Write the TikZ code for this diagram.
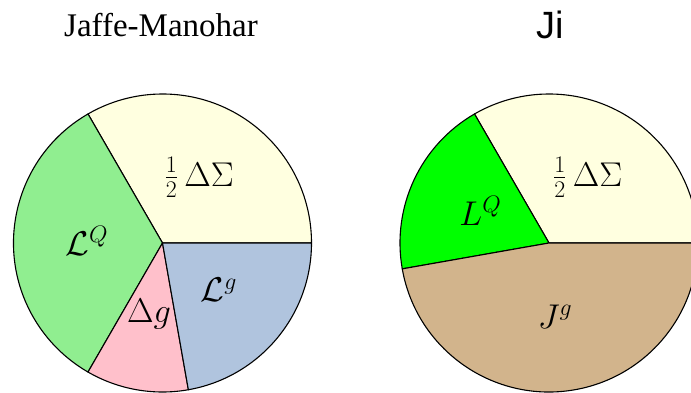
\documentclass[tikz,border=0pt]{standalone}
\usepackage{graphicx}
\usepackage{fontspec}
\setmainfont{Liberation Serif}
\newfontfamily\arialfont{Liberation Sans}
\definecolor{lyellow}{HTML}{FFFFE0}
\definecolor{lgreen}{HTML}{90EE90}
\definecolor{lpink}{HTML}{FFC0CB}
\definecolor{lsteel}{HTML}{B0C4DE}
\definecolor{limegreen}{HTML}{00FF00}
\definecolor{ltan}{HTML}{D2B48C}
\newcommand{\mlab}[1]{\scalebox{1.38}{$#1$}}
\begin{document}
\begin{tikzpicture}[x=1pt,y=1pt,
  slice/.style={draw=black,line width=1.1pt,line join=round},
  lab/.style={anchor=base,inner sep=0pt,font=\fontsize{25}{30}\selectfont},
  title/.style={anchor=base,inner sep=0pt}]
\useasboundingbox (0,0) rectangle (691,392);
\clip (0,0) rectangle (691,392);
\def\rad{149}
\coordinate (L) at (162.5,149);
\coordinate (R) at (549,149);
% left pie
\filldraw[slice,fill=lyellow] (L) -- ++(0:\rad) arc[start angle=0,end angle=120,radius=\rad] -- cycle;
\filldraw[slice,fill=lgreen] (L) -- ++(120:\rad) arc[start angle=120,end angle=240,radius=\rad] -- cycle;
\filldraw[slice,fill=lpink] (L) -- ++(240:\rad) arc[start angle=240,end angle=280,radius=\rad] -- cycle;
\filldraw[slice,fill=lsteel] (L) -- ++(280:\rad) arc[start angle=280,end angle=360,radius=\rad] -- cycle;
% right pie
\filldraw[slice,fill=lyellow] (R) -- ++(0:\rad) arc[start angle=0,end angle=120,radius=\rad] -- cycle;
\filldraw[slice,fill=limegreen] (R) -- ++(120:\rad) arc[start angle=120,end angle=190,radius=\rad] -- cycle;
\filldraw[slice,fill=ltan] (R) -- ++(190:\rad) arc[start angle=190,end angle=360,radius=\rad] -- cycle;
% titles
\node[title,font=\fontsize{33}{40}\selectfont] (t1) at (161,355.3) {Jaffe-Manohar};
\node[title,font=\arialfont\fontsize{38}{44}\selectfont] (t2) at (550,353.7) {Ji};
% labels
\node[lab] (lds) at (199,206) {\mlab{\frac{1}{2}\,\Delta\Sigma}};
\node[lab] (llq) at (87,137) {\mlab{\mathcal{L}^Q}};
\node[lab] (ldg) at (149,69.3) {\mlab{\Delta g}};
\node[lab] (llg) at (219,90.3) {\mlab{\mathcal{L}^g}};
\node[lab] (rds) at (587.5,206) {\mlab{\frac{1}{2}\,\Delta\Sigma}};
\node[lab] (rlq) at (480.5,167) {\mlab{L^Q}};
\node[lab] (rjg) at (555,64) {\mlab{J^g}};
\end{tikzpicture}
\end{document}
